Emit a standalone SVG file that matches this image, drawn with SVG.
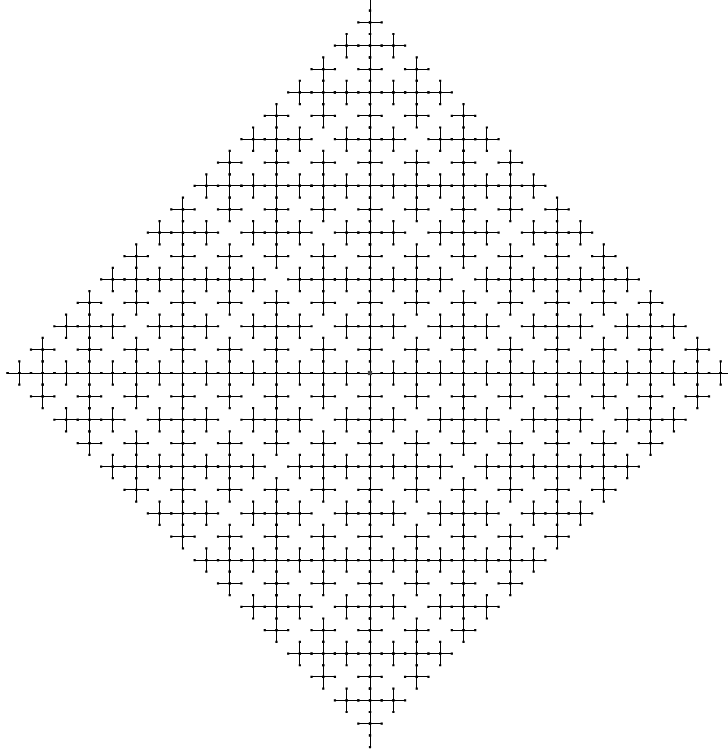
<svg xmlns="http://www.w3.org/2000/svg" xmlns:xlink="http://www.w3.org/1999/xlink" width="728" height="753" viewBox="0 0 728 753">
<style>
.ln{fill:none;stroke:#000;stroke-width:0.0855;shape-rendering:crispEdges}
.dt{fill:none;stroke:#000;stroke-width:0.19;stroke-dasharray:0 1;stroke-linecap:square}
</style>
<defs>
<path id="a1" d="M-1 0H1.01M0-1V1.01"/>
<path id="a2" d="M-2 0H2.01M0-2V2.01"/>
<path id="a4" d="M-4 0H4.01M0-4V4.01"/>
<path id="a8" d="M-8 0H8.01M0-8V8.01"/>
<path id="a0" d="M-31 0H32.01M0-32V32.01"/>
<g id="c1"><use href="#a1" class="ln"/><use href="#a1" class="dt"/></g>
<g id="c2"><use href="#a2" class="ln"/><use href="#a2" class="dt"/></g>
<g id="c4"><use href="#a4" class="ln"/><use href="#a4" class="dt"/></g>
<g id="c8"><use href="#a8" class="ln"/><use href="#a8" class="dt"/></g>
<g id="r0">
<use href="#c1" x="-15" y="15"/><use href="#c1" x="-13" y="13"/><use href="#c1" x="-11" y="11"/><use href="#c1" x="-9" y="9"/>
<use href="#c1" x="-7" y="7"/><use href="#c1" x="-5" y="5"/><use href="#c1" x="-3" y="3"/><use href="#c1" x="-1" y="1"/>
<use href="#c1" x="1" y="-1"/><use href="#c1" x="3" y="-3"/><use href="#c1" x="5" y="-5"/><use href="#c1" x="7" y="-7"/>
<use href="#c1" x="9" y="-9"/><use href="#c1" x="11" y="-11"/><use href="#c1" x="13" y="-13"/><use href="#c1" x="15" y="-15"/>
</g>
<g id="r1">
<use href="#c2" x="-14" y="14"/><use href="#c2" x="-10" y="10"/><use href="#c2" x="-6" y="6"/><use href="#c2" x="-2" y="2"/>
<use href="#c2" x="2" y="-2"/><use href="#c2" x="6" y="-6"/><use href="#c2" x="10" y="-10"/><use href="#c2" x="14" y="-14"/>
</g>
<g id="r2">
<use href="#c4" x="-12" y="12"/><use href="#c4" x="-4" y="4"/><use href="#c4" x="4" y="-4"/><use href="#c4" x="12" y="-12"/>
</g>
</defs>
<rect width="728" height="753" fill="#fff"/>
<g id="connectors" transform="translate(370 373) scale(11.69)">
<g id="level0">
<use href="#r0" x="-15" y="-15"/><use href="#r0" x="-13" y="-13"/><use href="#r0" x="-11" y="-11"/><use href="#r0" x="-9" y="-9"/>
<use href="#r0" x="-7" y="-7"/><use href="#r0" x="-5" y="-5"/><use href="#r0" x="-3" y="-3"/><use href="#r0" x="-1" y="-1"/>
<use href="#r0" x="1" y="1"/><use href="#r0" x="3" y="3"/><use href="#r0" x="5" y="5"/><use href="#r0" x="7" y="7"/>
<use href="#r0" x="9" y="9"/><use href="#r0" x="11" y="11"/><use href="#r0" x="13" y="13"/><use href="#r0" x="15" y="15"/>
</g>
<g id="level1">
<use href="#r1" x="-14" y="-14"/><use href="#r1" x="-10" y="-10"/><use href="#r1" x="-6" y="-6"/><use href="#r1" x="-2" y="-2"/>
<use href="#r1" x="2" y="2"/><use href="#r1" x="6" y="6"/><use href="#r1" x="10" y="10"/><use href="#r1" x="14" y="14"/>
</g>
<g id="level2">
<use href="#r2" x="-12" y="-12"/><use href="#r2" x="-4" y="-4"/><use href="#r2" x="4" y="4"/><use href="#r2" x="12" y="12"/>
</g>
<g id="level3">
<use href="#c8" x="16" y="0"/><use href="#c8" x="-16" y="0"/><use href="#c8" x="0" y="16"/><use href="#c8" x="0" y="-16"/>
</g>
<g id="axes">
<use href="#a0" class="ln"/><use href="#a0" class="dt"/>
</g>
<g id="root"><rect x="-0.18" y="-0.18" width="0.36" height="0.36" fill="#444"/></g>
</g>
</svg>
